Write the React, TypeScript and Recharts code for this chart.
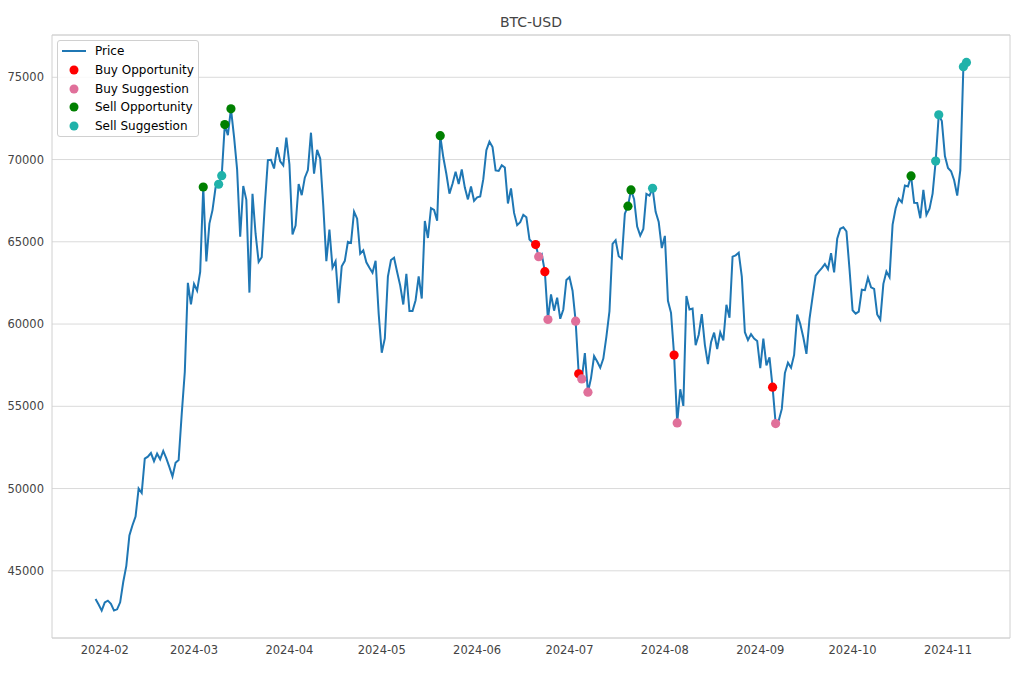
import React from 'react';
import {
  ComposedChart,
  Line,
  Scatter,
  XAxis,
  YAxis,
  CartesianGrid,
  Legend,
  ReferenceArea,
} from 'recharts';

// ---- Data (BTC-USD daily close) ----
const startDate = '2024-01-29';

const pricesJan = [43288, 42952, 42582];
const pricesFeb = [
  43075, 43185, 42992, 42583, 42658, 43084, 44318, 45301, 47147, 47771,
  48293, 50004, 49733, 51826, 51938, 52160, 51663, 52122, 51779, 52284,
  51839, 51304, 50731, 51571, 51733, 54522, 57086, 62504, 61198,
];
const pricesMar = [
  62440, 62029, 63167, 68330, 63801, 66106, 66926, 68300, 68498, 69020,
  72123, 71482, 73084, 71397, 69403, 65316, 68391, 67548, 61912, 67913,
  65491, 63779, 64062, 67234, 69958, 69987, 69455, 70744, 69892, 69646,
  71333,
];
const pricesApr = [
  69702, 65446, 65981, 68508, 67837, 68896, 69362, 71631, 69139, 70587,
  70060, 67195, 63821, 65738, 63426, 63811, 61276, 63512, 63844, 64994,
  64927, 66837, 66408, 64276, 64482, 63755, 63419, 63113, 63841, 60637,
];
const pricesMay = [
  58254, 59123, 62889, 63892, 64031, 63162, 62334, 61187, 63049, 60793,
  60793, 61448, 62901, 61553, 66267, 65232, 67051, 66940, 66278, 71448,
  70136, 69122, 67929, 68526, 69265, 68518, 69394, 68296, 67578, 68365,
  67491,
];
const pricesJun = [
  67706, 67751, 68804, 70567, 71082, 70757, 69342, 69305, 69648, 69512,
  67332, 68242, 66757, 66012, 66191, 66639, 66490, 65140, 64961, 64828,
  64096, 64252, 63181, 60277, 61804, 60812, 61604, 60320, 60887, 62678,
];
const pricesJul = [
  62851, 62029, 60173, 56977, 56663, 58231, 55857, 56714, 58052, 57725,
  57344, 57899, 59231, 60787, 64870, 65097, 64118, 63974, 66710, 67163,
  68154, 67586, 65927, 65372, 65777, 67912, 67813, 68255, 66819, 66201,
  64620,
];
const pricesAug = [
  65357, 61415, 60680, 58116, 53991, 56034, 55027, 61710, 60881, 60945,
  58719, 59354, 60609, 58737, 57560, 58894, 59478, 58483, 59493, 59012,
  61175, 60381, 64094, 64178, 64333, 62880, 59504, 59027, 59388, 59120,
  58969,
];
const pricesSep = [
  57326, 59112, 57485, 57971, 56160, 53948, 54139, 54841, 57019, 57648,
  57343, 58127, 60571, 60005, 59182, 58192, 60309, 61649, 62940, 63192,
  63395, 63648, 63329, 64302, 63143, 65181, 65791, 65888, 65635, 63330,
];
const pricesOct = [
  60837, 60633, 60754, 62087, 62061, 62818, 62236, 62131, 60582, 60275,
  62445, 63193, 62851, 66046, 67041, 67612, 67399, 68418, 68362, 69001,
  67367, 67361, 66432, 68161, 66642, 67014, 67929, 69907, 72720, 72339,
  70215,
];
const pricesNov = [69482, 69289, 68741, 67811, 69359, 75639, 75904];

const buyOpportunityDates = ['2024-06-20', '2024-06-23', '2024-07-04', '2024-08-04', '2024-09-05'];
const buySuggestionDates = ['2024-06-21', '2024-06-24', '2024-07-03', '2024-07-05', '2024-07-07', '2024-08-05', '2024-09-06'];
const sellOpportunityDates = ['2024-03-04', '2024-03-11', '2024-03-13', '2024-05-20', '2024-07-20', '2024-07-21', '2024-10-20'];
const sellSuggestionDates = ['2024-03-09', '2024-03-10', '2024-07-28', '2024-10-28', '2024-10-29', '2024-11-06', '2024-11-07'];

const monthTickDates = [
  '2024-02-01', '2024-03-01', '2024-04-01', '2024-05-01', '2024-06-01',
  '2024-07-01', '2024-08-01', '2024-09-01', '2024-10-01', '2024-11-01',
];
const yTicks = [45000, 50000, 55000, 60000, 65000, 70000, 75000];

// ---- Derived ----
const prices = [
  ...pricesJan, ...pricesFeb, ...pricesMar, ...pricesApr, ...pricesMay, ...pricesJun,
  ...pricesJul, ...pricesAug, ...pricesSep, ...pricesOct, ...pricesNov,
];
const DAY = 86400000;
const toDay = (s: string) => Math.round(Date.parse(s + 'T00:00:00Z') / DAY);
const t0 = toDay(startDate);
const priceData = prices.map((p, i) => ({ t: t0 + i, price: p }));
const pointsFor = (dates: string[]) =>
  dates.map((d) => {
    const t = toDay(d);
    return { t, price: prices[t - t0] };
  });

const tFirst = t0;
const tLast = t0 + prices.length - 1;
const xPad = (tLast - tFirst) * 0.05;
const xMin = tFirst - xPad;
const xMax = tLast + xPad;
const pMin = Math.min(...prices);
const pMax = Math.max(...prices);
const yPad = (pMax - pMin) * 0.05;
const yMin = pMin - yPad;
const yMax = pMax + yPad;
const monthTicks = monthTickDates.map(toDay);

const FONT = '"DejaVu Sans", sans-serif';
const LINE_COLOR = '#1f77b4';

const series = [
  { name: 'Buy Opportunity', color: '#ff0000', data: pointsFor(buyOpportunityDates) },
  { name: 'Buy Suggestion', color: '#e0709a', data: pointsFor(buySuggestionDates) },
  { name: 'Sell Opportunity', color: '#008000', data: pointsFor(sellOpportunityDates) },
  { name: 'Sell Suggestion', color: '#20b2aa', data: pointsFor(sellSuggestionDates) },
];

const fmtMonth = (t: number) => new Date(t * DAY).toISOString().slice(0, 7);

const renderLegend = () => (
  <div
    style={{
      border: '1px solid #d0d0d0',
      borderRadius: 3,
      background: 'rgba(255,255,255,0.85)',
      padding: '1px 4px 1px 4px',
      fontFamily: FONT,
      fontSize: 12,
      color: '#000',
    }}
  >
    <div style={{ display: 'flex', alignItems: 'center', height: 18.7 }}>
      <svg width={24} height={10}>
        <line x1={0} y1={5} x2={24} y2={5} stroke={LINE_COLOR} strokeWidth={2} />
      </svg>
      <span style={{ marginLeft: 9 }}>Price</span>
    </div>
    {series.map((s) => (
      <div key={s.name} style={{ display: 'flex', alignItems: 'center', height: 18.7 }}>
        <svg width={24} height={10}>
          <circle cx={12} cy={5} r={4.5} fill={s.color} />
        </svg>
        <span style={{ marginLeft: 9 }}>{s.name}</span>
      </div>
    ))}
  </div>
);

export default function App() {
  return (
    <div style={{ position: 'absolute', left: 0, top: 0, width: 1020, height: 680, background: '#fff' }}>
      <div
        style={{
          position: 'absolute',
          top: 13,
          left: 52,
          width: 958,
          textAlign: 'center',
          fontFamily: FONT,
          fontSize: 14,
          color: '#444',
          lineHeight: '18px',
        }}
      >
        BTC-USD
      </div>
      <ComposedChart
        width={1020}
        height={680}
        data={priceData}
        margin={{ top: 35, right: 10, bottom: 0, left: 0 }}
      >
        <CartesianGrid vertical={false} stroke="#dadada" strokeWidth={1} />
        <XAxis
          dataKey="t"
          type="number"
          domain={[xMin, xMax]}
          allowDataOverflow
          ticks={monthTicks}
          tickFormatter={fmtMonth}
          axisLine={false}
          tickLine={false}
          tickSize={0}
          tickMargin={8}
          height={42}
          tick={{ fontSize: 11.5, fill: '#444', fontFamily: FONT }}
        />
        <YAxis
          dataKey="price"
          type="number"
          domain={[yMin, yMax]}
          allowDataOverflow
          ticks={yTicks}
          axisLine={false}
          tickLine={false}
          tickSize={0}
          tickMargin={8}
          width={52}
          tick={{ fontSize: 11.5, fill: '#444', fontFamily: FONT }}
        />
        <ReferenceArea
          x1={xMin}
          x2={xMax}
          y1={yMin}
          y2={yMax}
          fill="none"
          fillOpacity={0}
          stroke="#d0d0d0"
          strokeWidth={1}
          ifOverflow="visible"
        />
        <Line
          type="linear"
          dataKey="price"
          stroke={LINE_COLOR}
          strokeWidth={2}
          dot={false}
          activeDot={false}
          isAnimationActive={false}
          name="Price"
        />
        {series.map((s) => (
          <Scatter
            key={s.name}
            name={s.name}
            data={s.data}
            dataKey="price"
            fill={s.color}
            isAnimationActive={false}
            shape={(props: any) => <circle cx={props.cx} cy={props.cy} r={4.6} fill={s.color} />}
          />
        ))}
        <Legend
          layout="vertical"
          align="center"
          verticalAlign="middle"
          content={renderLegend}
          wrapperStyle={{ position: 'absolute', left: 57, top: 40, width: 'auto', height: 'auto' }}
        />
      </ComposedChart>
    </div>
  );
}
